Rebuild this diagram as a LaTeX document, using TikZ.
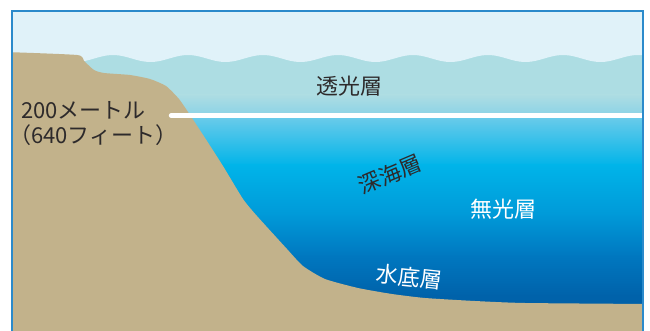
\documentclass[tikz,border=0pt]{standalone}
\usepackage{fontspec}
\newfontfamily\jpfont{Noto Sans CJK JP}
\definecolor{sky}{HTML}{E0F2F9}
\definecolor{shallow}{HTML}{ADDDE3}
\definecolor{shallowlow}{HTML}{8AD2E6}
\definecolor{deepA}{HTML}{6ECCEA}
\definecolor{deepB}{HTML}{00B4E9}
\definecolor{deepC}{HTML}{0099D8}
\definecolor{deepD}{HTML}{0078C0}
\definecolor{deepE}{HTML}{0062AA}
\definecolor{deepF}{HTML}{005CA4}
\definecolor{land}{HTML}{C2B28B}
\definecolor{ink}{HTML}{2D2A2B}
\definecolor{framecol}{HTML}{2B8ACB}
\begin{document}
\begin{tikzpicture}[x=1pt,y=-1pt,
  layertext/.style={font=\jpfont\fontsize{22}{24}\selectfont, inner sep=0pt},
  darktext/.style={layertext, text=ink},
  lighttext/.style={layertext, text=white},
  framebox/.style={draw=framecol, line width=1.6pt},
  depthline/.style={draw=white, line width=4.4pt, line cap=round}]
\useasboundingbox (0,0) rectangle (650,331);
\begin{scope}
  \clip (11.8,11) rectangle (642.8,345);
  % water column, light at the surface and dark at depth
  \fill[shallow] (0,40) rectangle (650,96);
  \shade[top color=shallow, bottom color=shallowlow] (0,95) rectangle (650,116);
  \shade[top color=deepA, bottom color=deepB] (0,115) rectangle (650,166);
  \shade[top color=deepB, bottom color=deepC] (0,165) rectangle (650,216);
  \shade[top color=deepC, bottom color=deepD] (0,215) rectangle (650,256);
  \shade[top color=deepD, bottom color=deepE] (0,255) rectangle (650,296);
  \shade[top color=deepE, bottom color=deepF] (0,295) rectangle (650,345);
  % sky above the wavy surface (wave period 75)
  \fill[sky] (650,0) -- (0,0) --
    plot[domain=0:650, samples=160] (\x, {58.5 - 3.5*cos(4.8*(\x-113))}) -- cycle;
  % coast, shelf slope and sea floor
  \fill[land] plot[smooth, tension=0.35] coordinates {
      (5,52) (77,55) (84,61) (94,70) (104,73) (130,75) (150,79) (166,86)
      (179,99) (190,115) (207,141) (223,166) (243,199) (257,216) (287,249)
      (303,266) (325,279) (358,288) (392,294) (425,298) (475,301) (525,303) (650,304)}
    -- (650,345) -- (0,345) -- cycle;
  % 200 m depth mark
  \coordinate (shelfedge) at (171,115.5);
  \coordinate (farside) at (660,115.5);
  \draw[depthline] (shelfedge) -- (farside);
\end{scope}
% outer frame
\draw[framebox] (11.8,345) -- (11.8,11) -- (642.8,11) -- (642.8,345);
% labels
\node[darktext] (photic) at (349,86) {透光層};
\node[darktext, rotate=23] (bathyal) at (390,174) {深海層};
\node[lighttext] (aphotic) at (503,209) {無光層};
\node[lighttext, rotate=-6] (benthic) at (409,277) {水底層};
\node[darktext, anchor=base west] (depthm) at (21,119) {200メートル};
\node[darktext, anchor=base west] (depthft) at (9,144) {（640フィート）};
\end{tikzpicture}
\end{document}
